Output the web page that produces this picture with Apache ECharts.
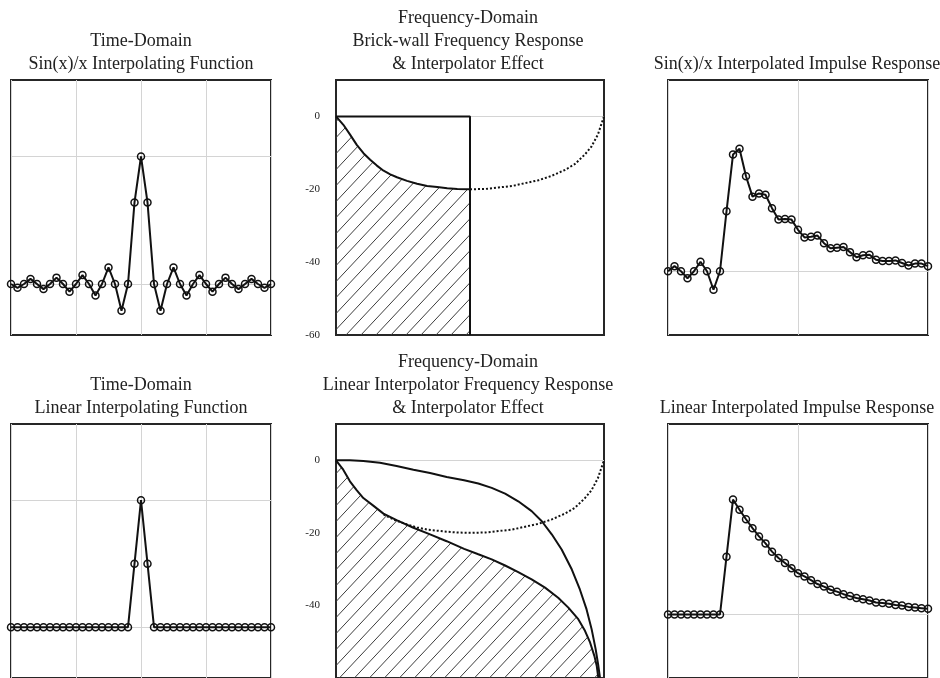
<!DOCTYPE html>
<html>
<head>
<meta charset="utf-8">
<title>Interpolation</title>
<script src="https://cdn.jsdelivr.net/npm/echarts@6/dist/echarts.min.js"></script>
<style>
    html, body { margin: 0; padding: 0; background: #fff; }
    #main { width: 940px; height: 678px; }
</style>
</head>
<body>
<div id="main"></div>
<script>
// sample positions
var sampleIdx = [-20, -19, -18, -17, -16, -15, -14, -13, -12, -11, -10, -9, -8, -7, -6, -5, -4, -3, -2, -1,
    0, 1, 2, 3, 4, 5, 6, 7, 8, 9, 10, 11, 12, 13, 14, 15, 16, 17, 18, 19, 20];
var respIdx = [0, 1, 2, 3, 4, 5, 6, 7, 8, 9, 10, 11, 12, 13, 14, 15, 16, 17, 18, 19, 20,
    21, 22, 23, 24, 25, 26, 27, 28, 29, 30, 31, 32, 33, 34, 35, 36, 37, 38, 39, 40];

// time-domain interpolating functions
var sincKernel = [0, -0.03, 0, 0.04, 0, -0.04, 0, 0.05, 0, -0.06, 0, 0.07, 0, -0.09, 0, 0.13, 0, -0.21, 0, 0.64,
    1, 0.64, 0, -0.21, 0, 0.13, 0, -0.09, 0, 0.07, 0, -0.06, 0, 0.05, 0, -0.04, 0, 0.04, 0, -0.03, 0];
var linearKernel = [0, 0, 0, 0, 0, 0, 0, 0, 0, 0, 0, 0, 0, 0, 0, 0, 0, 0, 0, 0.5,
    1, 0.5, 0, 0, 0, 0, 0, 0, 0, 0, 0, 0, 0, 0, 0, 0, 0, 0, 0, 0, 0];

// interpolated impulse responses
var sincResp = [0, 0.08, 0, -0.11, 0, 0.15, 0, -0.29, 0, 0.94, 1.83, 1.92, 1.49, 1.17, 1.22, 1.20, 0.99, 0.81, 0.82, 0.81,
    0.65, 0.53, 0.54, 0.56, 0.44, 0.36, 0.37, 0.38, 0.30, 0.22, 0.25, 0.26, 0.18, 0.16, 0.16, 0.17, 0.13, 0.09, 0.12, 0.12, 0.08];
var linearResp = [0, 0, 0, 0, 0, 0, 0, 0, 0, 0.91, 1.81, 1.65, 1.50, 1.36, 1.23, 1.12, 0.99, 0.89, 0.81, 0.73,
    0.65, 0.60, 0.54, 0.48, 0.44, 0.39, 0.36, 0.32, 0.29, 0.26, 0.24, 0.22, 0.19, 0.18, 0.17, 0.15, 0.14, 0.12, 0.11, 0.10, 0.09];

// frequency domain (dB)
var dbTicks = [0, -20, -40, -60];
var brickX = [0, 0.5, 0.5];
var brickY = [0, 0, -60];
var effectX = [0, 0.0275, 0.0525, 0.0775, 0.1025, 0.1275, 0.1525, 0.1775, 0.2025, 0.2275, 0.265, 0.3025, 0.34, 0.3775, 0.415, 0.4525, 0.5];
var effectY = [0, -2.3, -5.0, -7.8, -10.1, -11.9, -13.5, -14.9, -15.9, -16.7, -17.7, -18.5, -19.1, -19.4, -19.7, -19.9, -20.0];
var imageX = [0.5, 0.558, 0.607, 0.657, 0.706, 0.756, 0.805, 0.854, 0.891, 0.928, 0.953, 0.977, 1.0];
var imageY = [-20.0, -19.9, -19.5, -19.1, -18.3, -17.5, -16.3, -14.7, -13.1, -10.5, -8.3, -5.0, 0];
var linRespX = [0, 0.052, 0.102, 0.164, 0.226, 0.289, 0.351, 0.413, 0.478, 0.531, 0.581, 0.631, 0.680, 0.730, 0.768, 0.805, 0.842, 0.880, 0.910, 0.935, 0.954, 0.969, 0.979, 0.985];
var linRespY = [0, 0, -0.2, -0.7, -1.6, -2.6, -3.5, -4.6, -5.5, -6.4, -7.6, -9.2, -11.3, -14.0, -16.8, -20.4, -24.6, -30.1, -35.6, -41.1, -46.6, -52.1, -56.7, -60];
var linEffectX = [0, 0.027, 0.052, 0.077, 0.102, 0.139, 0.177, 0.226, 0.289, 0.351, 0.413, 0.478, 0.531, 0.581, 0.631, 0.680, 0.730, 0.780, 0.829, 0.867, 0.904, 0.929, 0.948, 0.964, 0.973, 0.979];
var linEffectY = [0, -2.6, -5.8, -8.2, -10.4, -12.5, -14.7, -16.5, -18.6, -20.4, -22.3, -24.4, -25.9, -27.3, -29.0, -30.8, -32.8, -35.1, -37.9, -40.6, -43.8, -47.0, -50.2, -53.9, -56.7, -60];

var titles = [
    { x: 141, y: 64, lines: ['Time-Domain', 'Sin(x)/x Interpolating Function'] },
    { x: 468, y: 64, lines: ['Frequency-Domain', 'Brick-wall Frequency Response', '& Interpolator Effect'] },
    { x: 797, y: 64, lines: ['Sin(x)/x Interpolated Impulse Response'] },
    { x: 141, y: 408, lines: ['Time-Domain', 'Linear Interpolating Function'] },
    { x: 468, y: 408, lines: ['Frequency-Domain', 'Linear Interpolator Frequency Response', '& Interpolator Effect'] },
    { x: 797, y: 408, lines: ['Linear Interpolated Impulse Response'] }
];

function pairs(xs, ys) {
    return xs.map(function (x, i) { return [x, ys[i]]; });
}

// diagonal hatch tile
var hatch = (function () {
    var w = 15, h = 16;
    var c = document.createElement('canvas');
    c.width = w; c.height = h;
    var g = c.getContext('2d');
    g.strokeStyle = '#3c3c3c';
    g.lineWidth = 1;
    g.beginPath();
    [-1, 0, 1].forEach(function (k) {
        g.moveTo(k * w, h);
        g.lineTo(k * w + w, 0);
    });
    g.stroke();
    return c;
})();

var gridLineStyle = { color: '#d4d4d4', width: 1, type: 'solid' };

function hLines(vals) {
    return {
        silent: true, z: 1, animation: false,
        symbol: ['none', 'none'],
        label: { show: false },
        lineStyle: gridLineStyle,
        emphasis: { disabled: true },
        data: vals.map(function (v) { return { yAxis: v }; })
    };
}

function stemSeries(idx, xs, ys, lines) {
    return {
        type: 'line', xAxisIndex: idx, yAxisIndex: idx,
        data: pairs(xs, ys),
        symbol: 'circle', symbolSize: 7, clip: false, z: 3,
        lineStyle: { color: '#111', width: 2 },
        itemStyle: { color: 'rgba(255,255,255,0)', borderColor: '#111', borderWidth: 1.5 },
        emphasis: { disabled: true },
        markLine: hLines(lines)
    };
}

function curve(idx, xs, ys, opts) {
    var s = {
        type: 'line', xAxisIndex: idx, yAxisIndex: idx,
        data: pairs(xs, ys),
        showSymbol: false, symbol: 'none', z: 3,
        lineStyle: { color: '#111', width: 2 },
        emphasis: { disabled: true }
    };
    return Object.assign(s, opts || {});
}

// bottom row runs past the lower edge of the picture
var grids = [
    { left: 11, top: 80, width: 260, height: 255 },
    { left: 336, top: 80, width: 268, height: 255 },
    { left: 668, top: 80, width: 260, height: 255 },
    { left: 11, top: 424, width: 260, height: 257 },
    { left: 336, top: 424, width: 268, height: 257 },
    { left: 668, top: 424, width: 260, height: 257 }
].map(function (g) {
    return Object.assign({ show: true, borderColor: '#262626', borderWidth: 2, backgroundColor: 'transparent' }, g);
});

function axisBase(idx) {
    return {
        gridIndex: idx, type: 'value',
        axisLine: { show: false }, axisTick: { show: false },
        axisLabel: { show: false }, splitLine: { show: false }
    };
}

var xAxes = [], yAxes = [];
[0, 3].forEach(function (i) {
    xAxes[i] = Object.assign(axisBase(i), { min: -20, max: 20, interval: 10, splitLine: { show: true, lineStyle: gridLineStyle } });
    yAxes[i] = Object.assign(axisBase(i), { min: -0.4, max: 1.6 });
});
[2, 5].forEach(function (i) {
    xAxes[i] = Object.assign(axisBase(i), { min: 0, max: 40, interval: 20, splitLine: { show: true, lineStyle: gridLineStyle } });
    yAxes[i] = Object.assign(axisBase(i), { min: -1, max: 3 });
});
[1, 4].forEach(function (i) {
    xAxes[i] = Object.assign(axisBase(i), { min: 0, max: 1 });
    yAxes[i] = Object.assign(axisBase(i), {
        min: -60, max: 10, interval: 20,
        axisLabel: {
            show: true, margin: 16, showMaxLabel: false, showMinLabel: i === 1,
            fontFamily: 'Liberation Serif', fontSize: 11, color: '#222',
            formatter: function (v) { return dbTicks.indexOf(v) >= 0 ? String(v) : ''; }
        }
    });
});

var hatchArea = { color: { image: hatch, repeat: 'repeat' }, origin: 'start', opacity: 1 };

var series = [
    stemSeries(0, sampleIdx, sincKernel, [0, 1]),
    stemSeries(3, sampleIdx, linearKernel, [0, 1]),
    stemSeries(2, respIdx, sincResp, [0]),
    stemSeries(5, respIdx, linearResp, [0]),

    curve(1, effectX, effectY, { areaStyle: hatchArea, markLine: hLines([0]) }),
    curve(1, brickX, brickY),
    curve(1, imageX, imageY, { lineStyle: { color: '#111', width: 2, type: 'dotted' } }),

    curve(4, linEffectX, linEffectY, { areaStyle: hatchArea, markLine: hLines([0]) }),
    curve(4, linRespX, linRespY),
    curve(4, effectX.slice(7).concat(imageX.slice(1)), effectY.slice(7).concat(imageY.slice(1)),
        { lineStyle: { color: '#111', width: 2, type: 'dotted' } })
];

var graphics = [];
titles.forEach(function (t) {
    var n = t.lines.length;
    t.lines.forEach(function (line, i) {
        graphics.push({
            type: 'text', silent: true,
            x: t.x, y: t.y - (n - 1 - i) * 23,
            style: {
                text: line, fill: '#222',
                font: '18px "Liberation Serif"',
                align: 'center', verticalAlign: 'middle',
                textAlign: 'center', textVerticalAlign: 'middle'
            }
        });
    });
});

var myChart = echarts.init(document.getElementById('main'));
myChart.setOption({
    animation: false,
    backgroundColor: '#fff',
    grid: grids,
    xAxis: xAxes,
    yAxis: yAxes,
    series: series,
    graphic: graphics
});
</script>
</body>
</html>
